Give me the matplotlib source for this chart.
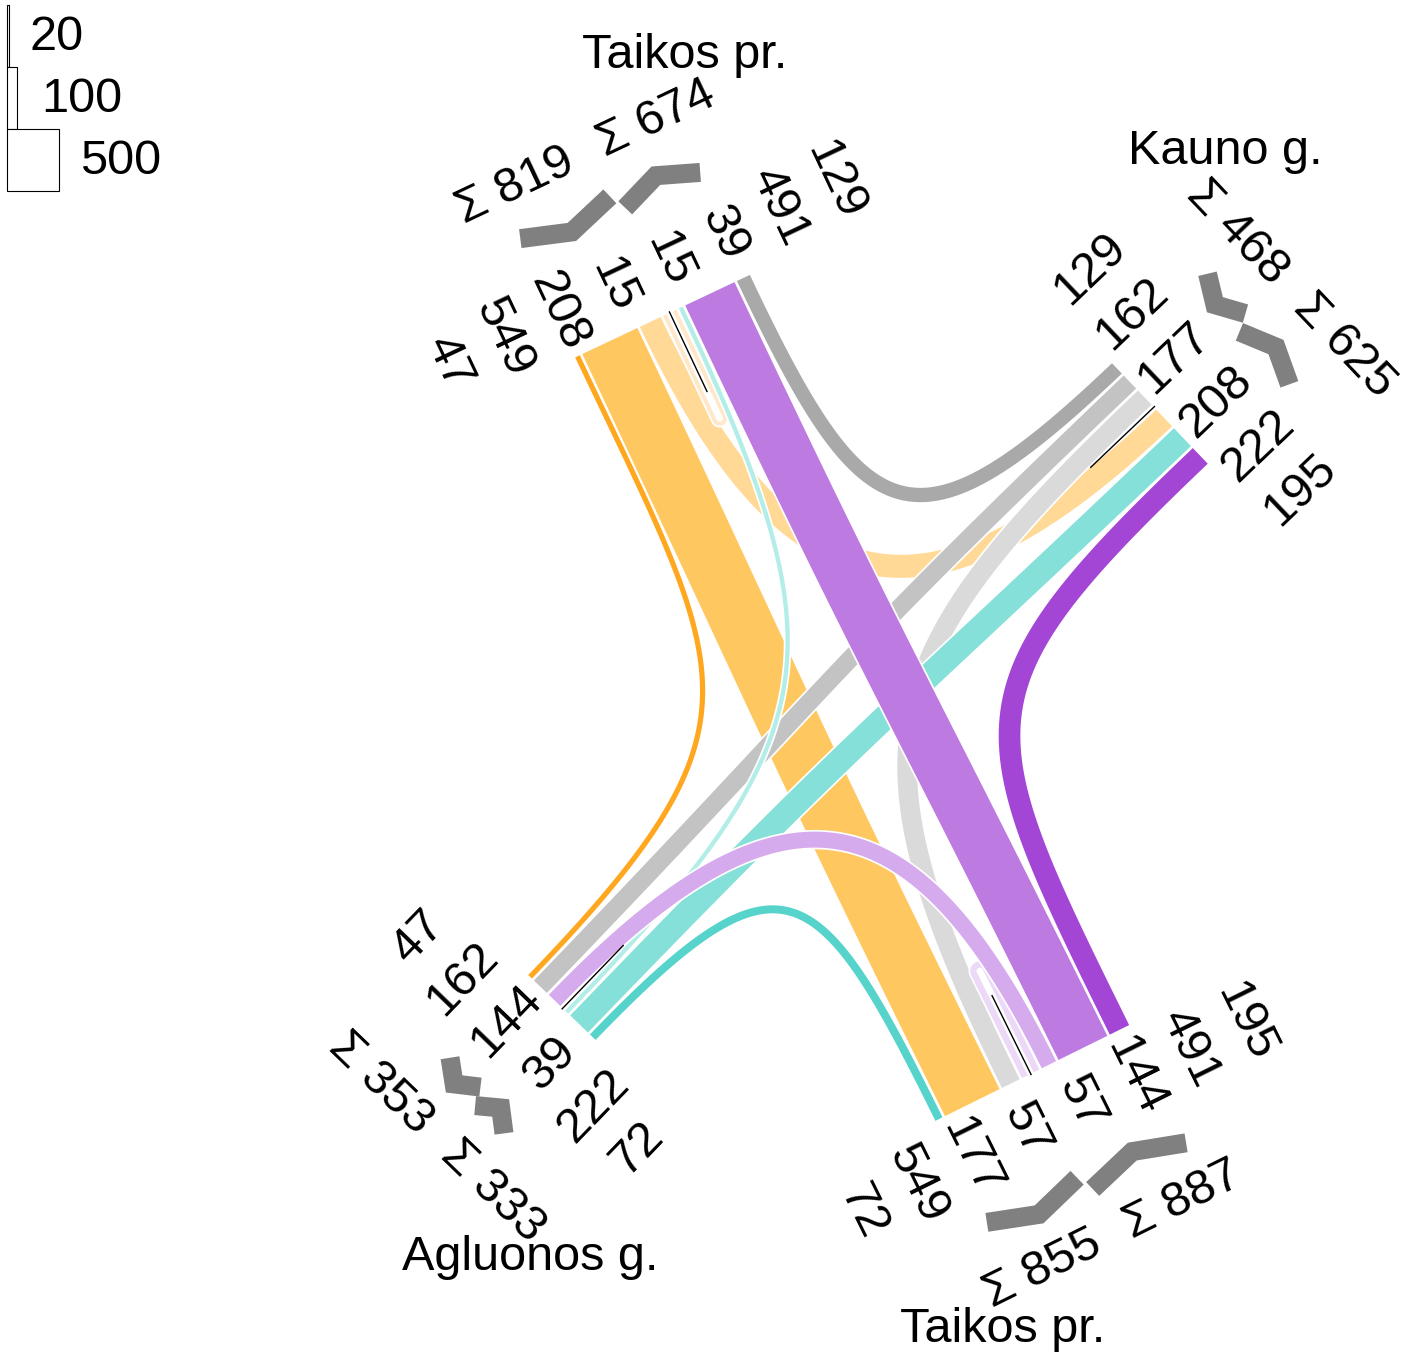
import numpy as np
import matplotlib.pyplot as plt
from matplotlib.patches import Polygon, Rectangle

plt.rcParams['font.family'] = ['Liberation Sans', 'DejaVu Sans']

# turning movements: origin arm -> destination arm, vehicles
flow_from = ['N', 'N', 'N', 'N', 'E', 'E', 'E', 'W', 'W', 'W', 'S', 'S', 'S', 'S']
flow_to = ['W', 'S', 'E', 'N', 'N', 'W', 'S', 'N', 'E', 'S', 'S', 'W', 'N', 'E']
flow_vol = [47, 549, 208, 15, 129, 162, 177, 39, 222, 72, 57, 144, 491, 195]
flow_col = ['#ffa81f', '#ffc75f', '#ffd995', '#ffe8c9',
            '#a9a9a9', '#c3c3c3', '#dadada',
            '#b3ede8', '#84e0d8', '#56d3cb',
            '#ecd9f7', '#d6abee', '#bd7ae1', '#a346d5']

arm_keys = ['N', 'E', 'W', 'S']
arm_names = ['Taikos pr.', 'Kauno g.', 'Agluonos g.', 'Taikos pr.']
# bands across each arm (flow indices), two groups split by the median line
arm_group1 = {'N': [0, 1, 2, 3], 'E': [4, 5, 6], 'W': [0, 5, 11], 'S': [9, 1, 6, 10]}
arm_group2 = {'N': [3, 7, 12, 4], 'E': [2, 8, 13], 'W': [7, 8, 9], 'S': [10, 11, 12, 13]}
arm_group1_out = {'N': True, 'E': True, 'W': False, 'S': False}

legend_vals = [20, 100, 500]

# geometry of the arms (pixel space)
arm_start = {'N': (574, 357), 'E': (1112, 362), 'W': (527, 975), 'S': (935, 1122)}
arm_across = {'N': (0.904, -0.427), 'E': (0.69, 0.724), 'W': (0.72, 0.694), 'S': (0.896, -0.443)}
arm_turn = {'N': 1, 'E': 1, 'W': -1, 'S': -1}
name_pos = [(685, 55), (1225, 152), (530, 1258), (1003, 1330)]

SCALE = 0.111   # px per vehicle
PAD = 1.7       # white outline
MINW = 4
GAP = 1
MEDIAN = 5
LBL_STEP = 61
FS = 35

W_PX, H_PX = 1407, 1358
fig = plt.figure(figsize=(W_PX / 100, H_PX / 100), dpi=100)
ax = fig.add_axes([0, 0, 1, 1])
ax.set_xlim(0, W_PX)
ax.set_ylim(H_PX, 0)
ax.axis('off')


def angle_of(v):
    return np.degrees(np.arctan2(-v[1], v[0]))


def readable(v):
    a = angle_of(v)
    if a > 90:
        a -= 180
    elif a <= -90:
        a += 180
    return a


# ---- lay out band positions on every arm
frame = {}
pos = {}
width = [max(v * SCALE, MINW) + PAD for v in flow_vol]
for k in arm_keys:
    a = np.array(arm_across[k])
    n = arm_turn[k] * np.array([-a[1], a[0]])
    s0 = np.array(arm_start[k], dtype=float)
    s = 0.0
    groups = []
    for gi, grp in enumerate([arm_group1[k], arm_group2[k]]):
        is_out = arm_group1_out[k] if gi == 0 else not arm_group1_out[k]
        role = 'out' if is_out else 'in'
        if gi == 1:
            median_c = s - GAP + MEDIAN / 2
            s += MEDIAN - GAP
        g0 = s
        for f in grp:
            pos[(f, role)] = s + width[f] / 2
            s += width[f] + GAP
        groups.append((g0, s - GAP, is_out, sum(flow_vol[f] for f in grp)))
    frame[k] = dict(a=a, n=n, s0=s0, span=s - GAP, median=median_c, groups=groups)


def offset_poly(pts, w):
    d = np.gradient(pts, axis=0)
    d /= np.linalg.norm(d, axis=1)[:, None]
    nr = np.column_stack([-d[:, 1], d[:, 0]])
    return np.vstack([pts + nr * w / 2, (pts - nr * w / 2)[::-1]])


# ---- bands
for f in range(len(flow_vol)):
    fo, fd = frame[flow_from[f]], frame[flow_to[f]]
    p0 = fo['s0'] + fo['a'] * pos[(f, 'out')]
    p3 = fd['s0'] + fd['a'] * pos[(f, 'in')]
    if flow_from[f] == flow_to[f]:
        n = fo['n']
        r = np.linalg.norm(p3 - p0) / 2
        depth = 126 - r - width[f] / 2
        mid = (p0 + p3) / 2
        u = (p0 - mid) / r
        t = np.linspace(0, 1, 60)[:, None]
        leg1 = p0 + n * depth * t
        th = np.linspace(0, np.pi, 60)[:, None]
        arc = mid + n * depth + r * (u * np.cos(th) + n * np.sin(th))
        leg2 = p3 + n * depth * (1 - t)
        pts = np.vstack([leg1[:-1], arc, leg2[1:]])
    else:
        d = np.linalg.norm(p3 - p0)
        L = 0.3 * d + 168
        p1 = p0 + fo['n'] * L
        p2 = p3 + fd['n'] * L
        t = np.linspace(0, 1, 200)[:, None]
        pts = ((1 - t) ** 3 * p0 + 3 * (1 - t) ** 2 * t * p1
               + 3 * (1 - t) * t ** 2 * p2 + t ** 3 * p3)
    ax.add_patch(Polygon(offset_poly(pts, width[f]), closed=True,
                         facecolor=flow_col[f], edgecolor='white',
                         linewidth=PAD * 0.72, zorder=2 + f * 0.01))

# ---- median lines, labels, direction marks
for i, k in enumerate(arm_keys):
    fr = frame[k]
    a, n, s0 = fr['a'], fr['n'], fr['s0']
    out = -n
    pm = s0 + a * fr['median']
    q = pm + n * 88
    ax.plot([pm[0], q[0]], [pm[1], q[1]], color='black', lw=1.0, zorder=5)

    centre = fr['span'] / 2
    vals = [flow_vol[f] for f in arm_group1[k] + arm_group2[k]]
    rot = readable(out)
    for j, v in enumerate(vals):
        c = centre + (j - (len(vals) - 1) / 2) * LBL_STEP
        p = s0 + a * c + out * 48
        ax.text(p[0], p[1], str(v), fontsize=FS, rotation=rot,
                rotation_mode='anchor', ha='center', va='center')

    srot = readable(a)
    for gi, (g0, g1, is_out, tot) in enumerate(fr['groups']):
        gc = (g0 + g1) / 2
        half = (g1 - g0 - 4) / 2
        if is_out:
            offs = [130, 114, 130]
        else:
            offs = [113, 129, 113]
        cs = [gc - half, gc, gc + half]
        pts = np.array([s0 + a * c + out * o for c, o in zip(cs, offs)])
        ax.plot(pts[:, 0], pts[:, 1], color='#808080', lw=19 * 0.72,
                solid_joinstyle='miter', solid_capstyle='butt', zorder=4)
        c = centre + (gi - 0.5) * 2 * 78
        p = s0 + a * c + out * 180
        ax.text(p[0], p[1], '\u03a3 ' + str(tot), fontsize=FS, rotation=srot,
                rotation_mode='anchor', ha='center', va='center')

    ax.text(name_pos[i][0], name_pos[i][1], arm_names[i], fontsize=FS,
            ha='center', va='center')

# ---- width legend
y = 5
lx = [30, 41, 80]
for j, v in enumerate(legend_vals):
    w = v * 0.104
    ax.add_patch(Rectangle((6.5, y), w, 62, facecolor='white', edgecolor='black',
                           linewidth=0.8, zorder=3))
    ax.text(lx[j], y + 45, str(v), fontsize=FS, ha='left', va='baseline')
    y += 62

fig.savefig('out.png', dpi=100)
